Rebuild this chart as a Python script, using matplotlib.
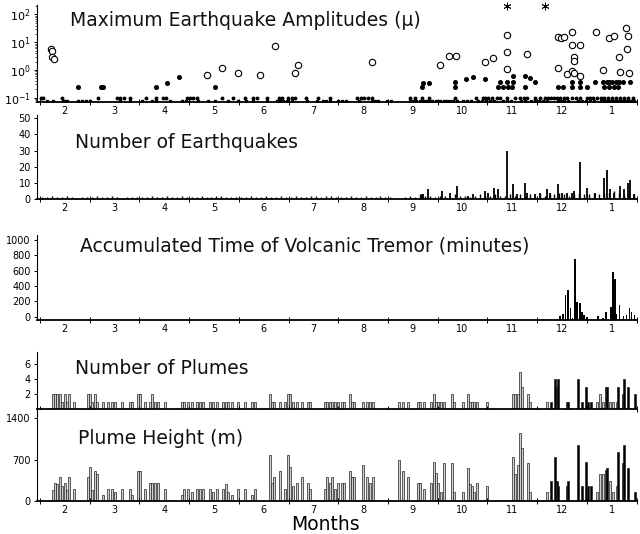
import numpy as np
import matplotlib
matplotlib.use("Agg")
import matplotlib.pyplot as plt
from matplotlib.transforms import blended_transform_factory

# x positions are in months counted from 1 February (0 = Feb 1, 12 = end of January)
month_names = ['2', '3', '4', '5', '6', '7', '8', '9', '10', '11', '12', '1']

# ---- Maximum earthquake amplitudes (micron)
amp_row_hi_x = [0.02, 0.06, 0.44, 1.17, 1.55, 1.61, 1.69, 1.81, 2.13, 2.33, 2.47, 2.54,
                2.96, 3.02, 3.08, 3.16, 3.66, 3.88, 4.12, 4.29, 4.37, 4.57, 4.81, 4.87,
                4.99, 5.07, 5.13, 5.35, 5.59, 5.84, 6.38, 6.46, 6.52, 6.60, 6.68, 7.44,
                7.55, 7.69, 7.83, 8.35, 8.77, 8.91, 8.95, 9.01, 9.09, 9.20, 9.26, 9.40,
                9.56, 9.66, 9.74, 9.80, 9.96, 10.06, 10.16, 10.22, 10.28, 10.34, 10.40,
                10.46, 10.54, 10.60, 10.70, 10.78, 10.87, 11.01, 11.07, 11.13, 11.21,
                11.29, 11.35, 11.43, 11.51, 11.59, 11.67, 11.75, 11.83, 11.93]
amp_row_lo_x = [0.14, 0.26, 0.46, 0.50, 0.54, 0.76, 0.85, 0.93, 1.01, 1.61, 1.81, 2.05,
                2.25, 2.33, 2.62, 2.86, 2.94, 3.18, 3.38, 3.52, 3.78, 3.98, 4.14, 4.29,
                4.57, 4.77, 4.83, 4.89, 4.97, 5.07, 5.37, 5.57, 5.69, 5.75, 5.84, 6.00,
                6.08, 6.16, 6.42, 6.68, 6.74, 6.80, 6.98, 7.06, 7.44, 7.51, 7.57, 7.65,
                7.71, 7.77, 7.83, 7.89, 7.97, 8.05, 8.13, 8.19, 8.25, 8.31, 8.39, 8.51,
                8.59, 8.67, 8.81, 8.89, 8.97, 9.05, 9.13, 9.32, 9.40, 9.48, 9.68, 9.76,
                9.88, 9.96, 10.04, 10.12, 10.20, 10.42, 10.48, 10.54, 10.62, 10.82,
                10.91, 10.99, 11.07, 11.15, 11.29, 11.35, 11.41, 11.47, 11.53, 11.59,
                11.65, 11.71, 11.77, 11.83, 11.89, 11.95]
dot_x = [0.76, 1.23, 1.27, 2.33, 2.56, 2.80, 3.52, 7.69, 7.71, 7.83, 8.35, 8.35, 8.57,
         8.71, 8.95, 9.26, 9.40, 9.52, 9.22, 9.32, 9.42, 9.50, 9.52, 9.76, 9.76, 9.86,
         9.96, 10.42, 10.52, 10.70, 10.70, 10.87, 10.87, 11.01, 11.17, 11.33, 11.40,
         11.45, 11.50, 11.58, 11.65, 11.72, 11.35, 11.45, 11.55, 11.62, 11.87]
dot_amp = [0.24, 0.24, 0.24, 0.24, 0.35, 0.56, 0.24, 0.24, 0.35, 0.35, 0.38, 0.24, 0.47,
           0.57, 0.47, 0.38, 0.38, 0.38, 0.24, 0.24, 0.24, 0.24, 0.6, 0.6, 0.24, 0.5,
           0.38, 0.24, 0.24, 0.24, 0.38, 0.38, 0.24, 0.24, 0.38, 0.38, 0.38,
           0.38, 0.38, 0.38, 0.38, 0.38, 0.24, 0.24, 0.24, 0.24, 0.38]
circ_x = [0.22, 0.24, 0.24, 0.28, 3.36, 3.66, 3.98, 4.43, 4.73, 5.13, 5.19, 6.68, 8.05,
          8.23, 8.37, 8.95, 9.11, 9.40, 9.40, 9.40, 9.80, 10.42, 10.42, 10.48, 10.54,
          10.60, 10.70, 10.70, 10.70, 10.74, 10.74, 10.74, 10.87, 10.87, 11.19, 11.33,
          11.45, 11.55, 11.65, 11.67, 11.79, 11.81, 11.83, 11.85]
circ_amp = [5.5, 5.0, 2.9, 2.5, 0.66, 1.18, 0.77, 0.66, 7.5, 0.8, 1.5, 1.9, 1.5,
            3.3, 3.3, 2.0, 2.6, 18, 4.6, 1.1, 3.8, 15, 1.2, 14, 16,
            0.7, 23, 8, 0.9, 2.9, 2.1, 0.8, 8, 0.6, 23, 1.0,
            14, 17, 2.9, 0.85, 33, 5.7, 17, 0.8]
offscale_x = [9.40, 10.16]

# ---- Number of earthquakes: background counts in 0.1-month bins, plus spikes
eq_bg = [1, 1, 2, 1, 1, 2, 1, 0, 1, 1,
         1, 2, 1, 1, 2, 1, 0, 1, 1, 1,
         1, 1, 2, 1, 1, 2, 1, 1, 2, 1,
         1, 1, 2, 1, 1, 2, 2, 1, 1, 1,
         1, 1, 2, 1, 1, 2, 1, 1, 2, 1,
         1, 2, 1, 1, 2, 2, 1, 2, 2, 1,
         1, 1, 2, 1, 1, 2, 1, 1, 2, 1,
         1, 0, 0, 1, 2, 1, 3, 2, 2, 1,
         2, 2, 1, 3, 2, 2, 1, 2, 3, 2,
         2, 3, 2, 2, 3, 2, 3, 2, 3, 2,
         3, 2, 3, 3, 4, 3, 2, 3, 4, 3,
         3, 4, 3, 4, 4, 5, 4, 3, 4, 3]
eq_x = [7.68, 7.71, 7.81, 8.08, 8.25, 8.38, 8.62, 8.72, 8.95, 9.02, 9.13, 9.22, 9.39,
        9.52, 9.59, 9.76, 9.79, 9.96, 10.05, 10.19, 10.26, 10.43, 10.50, 10.60, 10.70,
        10.74, 10.87, 11.01, 11.17, 11.35, 11.40, 11.47, 11.54, 11.67, 11.74, 11.82,
        11.86, 11.94]
eq_n = [3, 3, 6, 5, 4, 8, 2, 3, 5, 4, 7, 6, 30,
        9, 3, 10, 4, 3, 4, 6, 4, 9, 4, 4, 4,
        5, 23, 7, 4, 13, 18, 6, 4, 8, 6, 10,
        12, 3]

# ---- Accumulated time of volcanic tremor (minutes)
tremor_x = [10.09, 10.13, 10.17, 10.46, 10.52, 10.57, 10.62, 10.67, 10.71, 10.77, 10.81,
            10.86, 10.91, 10.95, 11.01, 11.23, 11.33, 11.39, 11.49, 11.53, 11.57, 11.60,
            11.66, 11.74, 11.80, 11.86, 11.90, 11.96]
tremor_min = [15, 15, 15, 50, 80, 320, 385, 150, 20, 790, 230,
              220, 100, 60, 40, 50, 30, 100, 170, 620, 530, 80,
              200, 50, 60, 150, 100, 60]

# ---- Plumes: day position, number of plumes, maximum height (m), dark (explosive) flag
plume_x = [0.26, 0.30, 0.34, 0.40, 0.44, 0.50, 0.54, 0.58, 0.68, 0.97, 1.01, 1.05, 1.11,
           1.15, 1.27, 1.37, 1.45, 1.51, 1.65, 1.81, 1.85, 1.97, 2.01, 2.11, 2.21, 2.25,
           2.31, 2.37, 2.52, 2.86, 2.90, 2.98, 3.06, 3.16, 3.22, 3.28, 3.42, 3.48, 3.56,
           3.68, 3.74, 3.78, 3.86, 3.98, 4.12, 4.27, 4.33, 4.63, 4.67, 4.71, 4.83, 4.93,
           4.99, 5.03, 5.09, 5.17, 5.27, 5.39, 5.43, 5.73, 5.77, 5.84, 5.88, 5.94, 6.00,
           6.08, 6.12, 6.24, 6.28, 6.32, 6.50, 6.58, 6.64, 6.70, 7.22, 7.30, 7.40, 7.61,
           7.65, 7.73, 7.87, 7.93, 7.97, 8.01, 8.07, 8.13, 8.29, 8.33, 8.51, 8.61, 8.65,
           8.69, 8.73, 8.79, 8.99, 9.52, 9.56, 9.62, 9.66, 9.70, 9.82, 9.86, 10.20, 10.28,
           10.36, 10.40, 10.42, 10.60, 10.62, 10.82, 10.91, 10.99, 11.03, 11.09, 11.21,
           11.27, 11.33, 11.39, 11.41, 11.47, 11.53, 11.61, 11.63, 11.73, 11.75, 11.83,
           11.97]
plume_n = [2, 2, 2, 2, 1, 2, 1, 2, 1, 2, 2, 1, 2,
           1, 1, 1, 1, 1, 1, 1, 1, 2, 2, 1, 1, 2,
           1, 1, 1, 1, 1, 1, 1, 1, 1, 1, 1, 1, 1,
           1, 1, 1, 1, 1, 1, 1, 1, 2, 1, 1, 1, 1,
           2, 2, 1, 1, 1, 1, 1, 1, 1, 1, 1, 1, 1,
           1, 1, 2, 1, 1, 1, 1, 1, 1, 1, 1, 1, 1,
           1, 1, 1, 2, 1, 1, 1, 1, 2, 1, 1, 2, 1,
           1, 1, 1, 1, 2, 2, 2, 5, 3, 2, 1, 1, 1,
           4, 3, 4, 1, 1, 4, 1, 3, 1, 1, 1,
           2, 1, 3, 3, 1, 1, 1, 3, 2, 4, 3,
           2]
plume_h = [190, 300, 280, 400, 250, 300, 180, 400, 200, 400, 580, 180, 500,
           450, 100, 200, 200, 150, 200, 200, 100, 500, 500, 200, 300, 300,
           300, 300, 200, 100, 200, 200, 150, 200, 200, 200, 200, 150, 200,
           200, 280, 150, 100, 200, 200, 100, 200, 780, 300, 400, 500, 200,
           780, 580, 250, 300, 400, 300, 200, 200, 400, 300, 400, 200, 300,
           300, 300, 500, 400, 400, 600, 400, 300, 400, 700, 500, 400, 300,
           300, 200, 300, 650, 480, 310, 150, 640, 640, 150, 150, 550, 280,
           260, 150, 310, 260, 750, 450, 615, 1140, 890, 640, 150, 150, 340,
           750, 340, 260, 260, 340, 944, 260, 660, 260, 260, 150,
           450, 450, 516, 550, 340, 150, 260, 834, 640, 944, 550,
           150]
plume_dark = [0] * 103 + [1, 1, 1, 1, 1, 1, 1, 1, 1, 1, 1, 0,
                          0, 0, 1, 1, 0, 0, 0, 1, 1, 1, 1,
                          1]

fig = plt.figure(figsize=(6.4, 5.34), dpi=100)
plt.rcParams['font.family'] = 'DejaVu Sans'


def add_panel(y_top, y_bot, month_labels=True):
    ax = fig.add_axes([37 / 640, 1 - y_bot / 534, 600 / 640, (y_bot - y_top) / 534])
    ax.set_xlim(-0.06, 12.01)
    for s in ['top', 'right']:
        ax.spines[s].set_visible(False)
    ax.spines['left'].set_linewidth(0.8)
    ax.spines['bottom'].set_linewidth(1.3)
    ax.set_xticks(np.arange(0, 13))
    ax.set_xticklabels([])
    ax.set_xticks(np.arange(12) + 0.5, minor=True)
    if month_labels:
        ax.set_xticklabels(month_names, minor=True)
    ax.tick_params(axis='x', which='minor', length=0, labelsize=7, pad=3)
    ax.tick_params(axis='x', which='major', length=4, direction='inout', width=0.7)
    ax.tick_params(axis='y', labelsize=7, length=2.5, width=0.7, pad=2)
    return ax


# Panel 1: amplitudes
ax1 = add_panel(5, 102)
ax1.set_yscale('log')
ax1.set_ylim(0.07, 220)
ax1.set_yticks([0.1, 1, 10, 100])
ax1.tick_params(axis='y', which='major', labelsize=8)
ax1.tick_params(axis='y', which='minor', length=1.5, width=0.5)
ax1.plot(amp_row_hi_x, [0.1] * len(amp_row_hi_x), 'o', ms=1.8, color='black')
ax1.plot(amp_row_lo_x, [0.078] * len(amp_row_lo_x), 's', ms=1.6, color='black')
ax1.plot(dot_x, dot_amp, 'o', ms=2.6, color='black')
ax1.plot(circ_x, circ_amp, 'o', ms=4.6, mfc='white', mec='black', mew=0.8)
trans = blended_transform_factory(ax1.transData, ax1.transAxes)
ax1.plot(offscale_x, [0.99] * len(offscale_x), marker=(6, 2, 0), ls='none', ms=5.5,
         color='black', mew=0.6, transform=trans, clip_on=False)

# Panel 2: number of earthquakes
ax2 = add_panel(115, 199)
ax2.set_ylim(0, 52)
ax2.set_yticks([0, 10, 20, 30, 40, 50])
bg_x = np.arange(len(eq_bg)) * 0.1 + 0.05
ax2.vlines(bg_x, 0, eq_bg, color='black', lw=1.0)
ax2.vlines(eq_x, 0, eq_n, color='black', lw=1.3)

# Panel 3: volcanic tremor
ax3 = add_panel(235, 320)
ax3.set_ylim(-40, 1060)
ax3.set_yticks([0, 200, 400, 600, 800, 1000])
ax3.bar(tremor_x, tremor_min, width=0.035, color='black', bottom=-40)

# Panel 4: number of plumes
face = ['black' if d else '#cfcfcf' for d in plume_dark]
ax4 = add_panel(352, 409, month_labels=False)
ax4.set_ylim(0, 7.6)
ax4.set_yticks([2, 4, 6])
ax4.bar(plume_x, plume_n, width=0.04, color=face, edgecolor='#222222', linewidth=0.5)

# Panel 5: plume height
ax5 = add_panel(410, 501)
ax5.set_ylim(0, 1535)
ax5.set_yticks([0, 700, 1400])
ax5.bar(plume_x, plume_h, width=0.04, color=face, edgecolor='#222222', linewidth=0.5)

title_kw = dict(fontsize=13.5, ha='left', va='center', color='#111111')
fig.text(70 / 640, 1 - 20 / 534, 'Maximum Earthquake Amplitudes (μ)', **title_kw)
fig.text(75 / 640, 1 - 143 / 534, 'Number of Earthquakes', **title_kw)
fig.text(80 / 640, 1 - 246 / 534, 'Accumulated Time of Volcanic Tremor (minutes)', **title_kw)
fig.text(75 / 640, 1 - 369 / 534, 'Number of Plumes', **title_kw)
fig.text(78 / 640, 1 - 438 / 534, 'Plume Height (m)', **title_kw)
fig.text(325 / 640, 1 - 524 / 534, 'Months', fontsize=13.5, ha='center', va='center')

fig.savefig('out.png', dpi=100)
